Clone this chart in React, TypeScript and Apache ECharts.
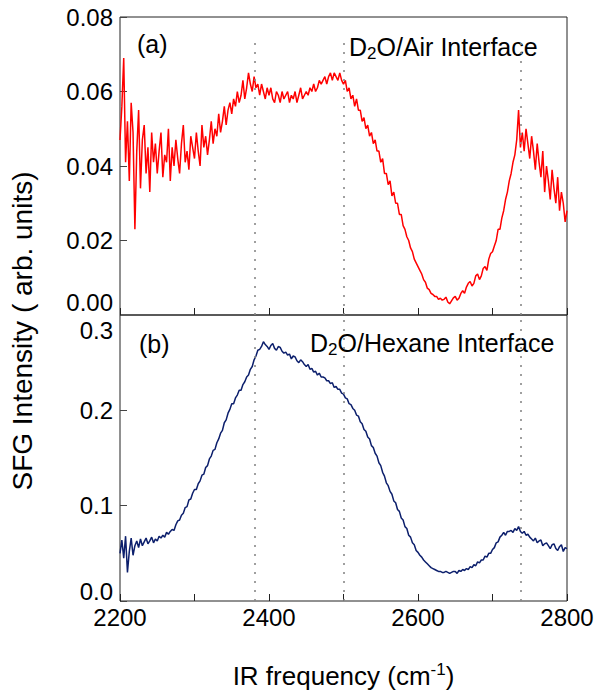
import React, { useEffect, useRef } from "react";
import * as echarts from "echarts";

// IR frequency grid (cm^-1)
const frequency = [
  2200, 2202.5, 2205, 2207.5, 2210, 2212.5, 2215, 2217.5, 2220, 2222.5,
  2225, 2227.5, 2230, 2232.5, 2235, 2237.5, 2240, 2242.5, 2245, 2247.5,
  2250, 2252.5, 2255, 2257.5, 2260, 2262.5, 2265, 2267.5, 2270, 2272.5,
  2275, 2277.5, 2280, 2282.5, 2285, 2287.5, 2290, 2292.5, 2295, 2297.5,
  2300, 2302.5, 2305, 2307.5, 2310, 2312.5, 2315, 2317.5, 2320, 2322.5,
  2325, 2327.5, 2330, 2332.5, 2335, 2337.5, 2340, 2342.5, 2345, 2347.5,
  2350, 2352.5, 2355, 2357.5, 2360, 2362.5, 2365, 2367.5, 2370, 2372.5,
  2375, 2377.5, 2380, 2382.5, 2385, 2387.5, 2390, 2392.5, 2395, 2397.5,
  2400, 2402.5, 2405, 2407.5, 2410, 2412.5, 2415, 2417.5, 2420, 2422.5,
  2425, 2427.5, 2430, 2432.5, 2435, 2437.5, 2440, 2442.5, 2445, 2447.5,
  2450, 2452.5, 2455, 2457.5, 2460, 2462.5, 2465, 2467.5, 2470, 2472.5,
  2475, 2477.5, 2480, 2482.5, 2485, 2487.5, 2490, 2492.5, 2495, 2497.5,
  2500, 2502.5, 2505, 2507.5, 2510, 2512.5, 2515, 2517.5, 2520, 2522.5,
  2525, 2527.5, 2530, 2532.5, 2535, 2537.5, 2540, 2542.5, 2545, 2547.5,
  2550, 2552.5, 2555, 2557.5, 2560, 2562.5, 2565, 2567.5, 2570, 2572.5,
  2575, 2577.5, 2580, 2582.5, 2585, 2587.5, 2590, 2592.5, 2595, 2597.5,
  2600, 2602.5, 2605, 2607.5, 2610, 2612.5, 2615, 2617.5, 2620, 2622.5,
  2625, 2627.5, 2630, 2632.5, 2635, 2637.5, 2640, 2642.5, 2645, 2647.5,
  2650, 2652.5, 2655, 2657.5, 2660, 2662.5, 2665, 2667.5, 2670, 2672.5,
  2675, 2677.5, 2680, 2682.5, 2685, 2687.5, 2690, 2692.5, 2695, 2697.5,
  2700, 2702.5, 2705, 2707.5, 2710, 2712.5, 2715, 2717.5, 2720, 2722.5,
  2725, 2727.5, 2730, 2732.5, 2735, 2737.5, 2740, 2742.5, 2745, 2747.5,
  2750, 2752.5, 2755, 2757.5, 2760, 2762.5, 2765, 2767.5, 2770, 2772.5,
  2775, 2777.5, 2780, 2782.5, 2785, 2787.5, 2790, 2792.5, 2795, 2797.5,
  2800,
];

// (a) D2O/Air interface SFG intensity
const airIntensity = [
  0.047, 0.056, 0.069, 0.041, 0.052, 0.036, 0.057, 0.049, 0.023, 0.044,
  0.055, 0.034, 0.047, 0.051, 0.038, 0.045, 0.033, 0.049, 0.041, 0.046,
  0.038, 0.044, 0.049, 0.037, 0.043, 0.041, 0.05, 0.036, 0.045, 0.04,
  0.047, 0.042, 0.038, 0.046, 0.051, 0.041, 0.044, 0.039, 0.048, 0.045,
  0.042, 0.049, 0.044, 0.04, 0.051, 0.045, 0.048, 0.043, 0.047, 0.052,
  0.046, 0.05, 0.048, 0.054, 0.049, 0.052, 0.056, 0.051, 0.055, 0.057,
  0.054, 0.058, 0.056, 0.06, 0.057, 0.059, 0.063, 0.058, 0.061, 0.065,
  0.062, 0.06, 0.064, 0.061, 0.062, 0.059, 0.062, 0.06, 0.058, 0.061,
  0.059, 0.061, 0.058, 0.057, 0.06, 0.059, 0.057, 0.06, 0.058, 0.059,
  0.06, 0.057, 0.059, 0.058, 0.06, 0.057, 0.059, 0.061, 0.058, 0.059,
  0.06, 0.059, 0.061, 0.06, 0.062, 0.06, 0.061, 0.063, 0.062, 0.063,
  0.064, 0.062, 0.064, 0.065, 0.063, 0.065, 0.064, 0.063, 0.065, 0.063,
  0.062, 0.063, 0.06, 0.061, 0.058, 0.059, 0.056, 0.058, 0.055, 0.055,
  0.052, 0.053, 0.05, 0.051, 0.048, 0.049, 0.046, 0.047, 0.044, 0.044,
  0.041, 0.042, 0.038, 0.038, 0.035, 0.036, 0.032, 0.033, 0.03, 0.03,
  0.027, 0.027, 0.024, 0.023, 0.021, 0.02, 0.018, 0.017, 0.015, 0.014,
  0.013, 0.012, 0.011, 0.0095, 0.0088, 0.0072, 0.0068, 0.0058, 0.0055, 0.005,
  0.005, 0.0042, 0.0045, 0.004, 0.0042, 0.0048, 0.0035, 0.003, 0.0038, 0.0046,
  0.005, 0.004, 0.0045, 0.0058, 0.0065, 0.0058, 0.0075, 0.0085, 0.009, 0.0078,
  0.0085, 0.0105, 0.011, 0.0095, 0.0105, 0.0125, 0.013, 0.012, 0.015, 0.0165,
  0.017, 0.0185, 0.02, 0.023, 0.023, 0.026, 0.028, 0.031, 0.033, 0.036,
  0.038, 0.041, 0.043, 0.047, 0.055, 0.045, 0.049, 0.044, 0.05, 0.046,
  0.042, 0.048, 0.044, 0.039, 0.046, 0.041, 0.037, 0.044, 0.033, 0.04,
  0.036, 0.031, 0.039, 0.034, 0.03, 0.037, 0.028, 0.033, 0.03, 0.025,
  0.028,
];

// (b) D2O/Hexane interface SFG intensity
const hexaneIntensity = [
  0.05, 0.064, 0.045, 0.068, 0.03, 0.052, 0.066, 0.048, 0.058, 0.063,
  0.056, 0.065, 0.058, 0.062, 0.066, 0.06, 0.063, 0.067, 0.061, 0.065,
  0.063, 0.068, 0.066, 0.069, 0.067, 0.072, 0.07, 0.073, 0.075, 0.074,
  0.08, 0.084, 0.085, 0.09, 0.092, 0.098, 0.099, 0.106, 0.107, 0.113,
  0.117, 0.117, 0.123, 0.126, 0.132, 0.133, 0.14, 0.142, 0.149, 0.152,
  0.158, 0.159, 0.166, 0.17, 0.176, 0.179, 0.187, 0.19, 0.197, 0.201,
  0.207, 0.207, 0.213, 0.216, 0.221, 0.221, 0.227, 0.23, 0.235, 0.237,
  0.243, 0.246, 0.253, 0.257, 0.263, 0.264, 0.267, 0.272, 0.269, 0.267,
  0.264, 0.268, 0.27, 0.265, 0.263, 0.267, 0.266, 0.262, 0.26, 0.261,
  0.258, 0.259, 0.254, 0.257, 0.256, 0.252, 0.25, 0.253, 0.251, 0.248,
  0.246, 0.248, 0.243, 0.244, 0.24, 0.241, 0.237, 0.239, 0.235, 0.235,
  0.234, 0.231, 0.231, 0.228, 0.229, 0.224, 0.225, 0.222, 0.222, 0.218,
  0.217, 0.213, 0.212, 0.207, 0.206, 0.202, 0.2, 0.195, 0.194, 0.188,
  0.186, 0.18, 0.178, 0.172, 0.17, 0.163, 0.161, 0.155, 0.152, 0.145,
  0.142, 0.135, 0.131, 0.124, 0.121, 0.115, 0.112, 0.105, 0.103, 0.096,
  0.094, 0.087, 0.085, 0.078, 0.076, 0.069, 0.067, 0.061, 0.059, 0.053,
  0.051, 0.048, 0.046, 0.043, 0.041, 0.039, 0.037, 0.035, 0.034, 0.033,
  0.032, 0.031, 0.031, 0.03, 0.03, 0.031, 0.03, 0.029, 0.03, 0.031,
  0.031, 0.029, 0.032, 0.031, 0.033, 0.032, 0.034, 0.033, 0.036, 0.035,
  0.038, 0.037, 0.041, 0.04, 0.043, 0.043, 0.047, 0.046, 0.05, 0.05,
  0.054, 0.056, 0.061, 0.062, 0.067, 0.069, 0.072, 0.069, 0.073, 0.073,
  0.074, 0.072, 0.076, 0.074, 0.078, 0.073, 0.071, 0.073, 0.069, 0.07,
  0.067, 0.065, 0.063, 0.066, 0.061, 0.063, 0.064, 0.058, 0.06, 0.061,
  0.058, 0.055, 0.059, 0.06, 0.055, 0.053, 0.057, 0.059, 0.052, 0.056,
  0.055,
];

// dotted guide lines (cm^-1)
const guideFrequencies = [2381, 2501, 2738];
const airGuideTop = 0.073;

// edge tick labels where the two panels meet
const airMinLabel = "0.00";
const hexaneMaxLabel = "0.3";

const FONT = 'Arial, "Liberation Sans", Helvetica, sans-serif';

export default function App() {
  const ref = useRef<HTMLDivElement>(null);

  useEffect(() => {
    if (!ref.current) return;
    const chart = echarts.init(ref.current, undefined, { renderer: "svg" });

    const airData = frequency.map((f, i) => [f, airIntensity[i]]);
    const hexData = frequency.map((f, i) => [f, hexaneIntensity[i]]);

    const xAxisBase = {
      type: "value" as const,
      min: 2200,
      max: 2800,
      interval: 100,
      axisLine: { show: false },
      splitLine: { show: false },
      axisTick: { show: true, inside: true, length: 7, lineStyle: { color: "#222", width: 1 } },
    };

    const yAxisBase = {
      type: "value" as const,
      min: 0,
      axisLine: { show: false },
      splitLine: { show: false },
      axisTick: { show: true, inside: true, length: 7, lineStyle: { color: "#444", width: 1 } },
    };

    const labelRich = {
      n: { fontSize: 24, fontFamily: FONT, color: "#000" },
      lo: { fontSize: 24, fontFamily: FONT, color: "#000", padding: [0, 0, 20, 0] },
    };

    const guideStyle = { color: "#888", width: 1.6, type: [2, 7] as any };

    chart.setOption({
      animation: false,
      grid: [
        { left: 120, top: 17, width: 447, height: 298, show: true, borderColor: "#222", borderWidth: 1, backgroundColor: "transparent" },
        { left: 120, top: 315, width: 447, height: 298, show: true, borderColor: "#222", borderWidth: 1, backgroundColor: "transparent" },
      ],
      xAxis: [
        { ...xAxisBase, gridIndex: 0, axisLabel: { show: false } },
        {
          ...xAxisBase,
          gridIndex: 1,
          axisLabel: {
            show: true,
            margin: 4,
            fontSize: 24,
            fontFamily: FONT,
            color: "#000",
            formatter: (v: number) => (v % 200 === 0 ? String(v) : ""),
          },
          name: "{a|IR frequency (cm}{s|-1}{a|)}",
          nameLocation: "middle",
          nameGap: 60,
          nameTextStyle: {
            rich: {
              a: { fontSize: 26, fontFamily: FONT, color: "#000", lineHeight: 30 },
              s: { fontSize: 17, fontFamily: FONT, color: "#000", lineHeight: 10, verticalAlign: "top" },
            },
          },
        },
      ],
      yAxis: [
        {
          ...yAxisBase,
          gridIndex: 0,
          max: 0.08,
          interval: 0.02,
          axisLabel: {
            margin: 7,
            fontSize: 24,
            fontFamily: FONT,
            color: "#000",
            showMinLabel: false,
            formatter: (v: number) => `{n|${v.toFixed(2)}}`,
            rich: labelRich,
          },
        },
        {
          ...yAxisBase,
          gridIndex: 1,
          max: 0.3,
          interval: 0.1,
          axisLabel: {
            margin: 7,
            fontSize: 24,
            fontFamily: FONT,
            color: "#000",
            showMaxLabel: false,
            formatter: (v: number) => {
              const s = v.toFixed(1);
              if (v === 0) return `{lo|${s}}`;
              return `{n|${s}}`;
            },
            rich: labelRich,
          },
        },
      ],
      series: [
        {
          type: "line",
          xAxisIndex: 0,
          yAxisIndex: 0,
          data: airData,
          showSymbol: false,
          lineStyle: { color: "#ff0000", width: 1.5 },
          z: 3,
          markLine: {
            silent: true,
            symbol: "none",
            label: { show: false },
            lineStyle: guideStyle,
            data: guideFrequencies.map((f) => [{ coord: [f, airGuideTop] }, { coord: [f, 0] }]),
          },
        },
        {
          type: "line",
          xAxisIndex: 1,
          yAxisIndex: 1,
          data: hexData,
          showSymbol: false,
          lineStyle: { color: "#0c1f6c", width: 1.5 },
          z: 3,
          markLine: {
            silent: true,
            symbol: "none",
            label: { show: false },
            lineStyle: guideStyle,
            data: guideFrequencies.map((f) => ({ xAxis: f })),
          },
        },
      ],
      graphic: [
        {
          type: "text",
          x: 113,
          y: 302,
          style: {
            text: airMinLabel,
            fontSize: 24,
            lineHeight: 18,
            fontFamily: FONT,
            fill: "#000",
            align: "right",
            verticalAlign: "middle",
          },
        },
        {
          type: "text",
          x: 113,
          y: 330,
          style: {
            text: hexaneMaxLabel,
            fontSize: 24,
            lineHeight: 18,
            fontFamily: FONT,
            fill: "#000",
            align: "right",
            verticalAlign: "middle",
          },
        },
        {
          type: "text",
          x: 22,
          y: 331,
          rotation: Math.PI / 2,
          style: {
            text: "SFG Intensity ( arb. units)",
            fontSize: 28,
            fontFamily: FONT,
            fill: "#000",
            align: "center",
            verticalAlign: "middle",
          },
        },
        {
          type: "text",
          x: 137,
          y: 44,
          style: { text: "(a)", fontSize: 25, fontFamily: FONT, fill: "#000", verticalAlign: "middle" },
        },
        {
          type: "text",
          x: 139,
          y: 344,
          style: { text: "(b)", fontSize: 25, fontFamily: FONT, fill: "#000", verticalAlign: "middle" },
        },
        {
          type: "text",
          x: 349,
          y: 47,
          style: {
            text: "{n|D}{s|2}{n|O/Air Interface}",
            verticalAlign: "middle",
            rich: {
              n: { fontSize: 25, fontFamily: FONT, fill: "#000", lineHeight: 30 },
              s: { fontSize: 17, fontFamily: FONT, fill: "#000", lineHeight: 14, verticalAlign: "bottom" },
            },
          },
        },
        {
          type: "text",
          x: 310,
          y: 343,
          style: {
            text: "{n|D}{s|2}{n|O/Hexane Interface}",
            verticalAlign: "middle",
            rich: {
              n: { fontSize: 25, fontFamily: FONT, fill: "#000", lineHeight: 30 },
              s: { fontSize: 17, fontFamily: FONT, fill: "#000", lineHeight: 14, verticalAlign: "bottom" },
            },
          },
        },
      ],
    });

    return () => chart.dispose();
  }, []);

  return (
    <div
      ref={ref}
      style={{ position: "absolute", left: 0, top: 0, width: 598, height: 690, background: "#fff" }}
    />
  );
}
